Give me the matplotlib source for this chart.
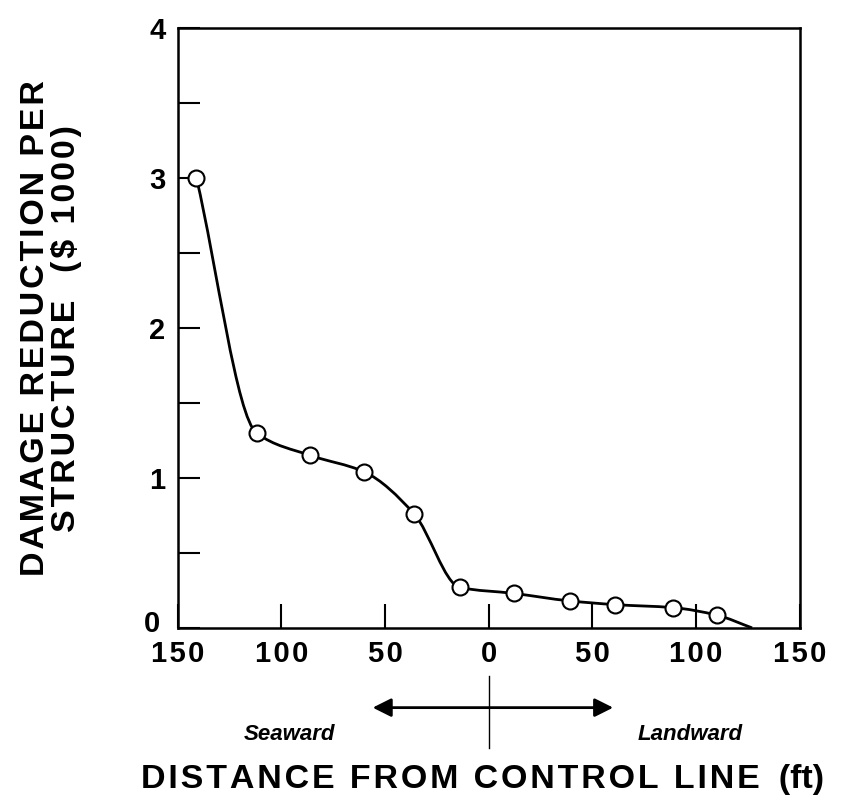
import numpy as np
import matplotlib.pyplot as plt
from matplotlib.path import Path
from matplotlib.patches import PathPatch
from matplotlib.ticker import FuncFormatter
import matplotlib.transforms as mtransforms

plt.rcParams['font.family'] = ['Liberation Sans', 'DejaVu Sans']
plt.rcParams['font.weight'] = 'bold'

# distancia (ft) e reducao de dano (US$ 1000)
dist = [-141, -112, -86, -60, -36, -14, 12, 39, 61, 89, 110]
reducao = [3.0, 1.3, 1.15, 1.04, 0.76, 0.27, 0.23, 0.18, 0.155, 0.135, 0.085]
# onde a curva encosta no eixo
fim_x, fim_y = 127, 0.0

x_ticks = [-150, -100, -50, 0, 50, 100, 150]
y_ticks = [0, 1, 2, 3, 4]


def curva_suave(px, py):
    # hermite monotona (fritsch-carlson) convertida em bezier cubica
    x = np.asarray(px, float)
    y = np.asarray(py, float)
    h = np.diff(x)
    d = np.diff(y) / h
    m = np.zeros_like(x)
    for i in range(1, len(x) - 1):
        if d[i - 1] * d[i] > 0:
            w1 = 2 * h[i] + h[i - 1]
            w2 = h[i] + 2 * h[i - 1]
            m[i] = (w1 + w2) / (w1 / d[i - 1] + w2 / d[i])
    m[0] = d[0]
    m[-1] = d[-1]
    verts = [(x[0], y[0])]
    codes = [Path.MOVETO]
    for i in range(len(x) - 1):
        verts += [(x[i] + h[i] / 3, y[i] + m[i] * h[i] / 3),
                  (x[i + 1] - h[i] / 3, y[i + 1] - m[i + 1] * h[i] / 3),
                  (x[i + 1], y[i + 1])]
        codes += [Path.CURVE4] * 3
    return Path(verts, codes)


def espacado(s, sep='\u200a'):
    # espacamento entre letras, como no original
    return sep.join(s)


fig = plt.figure(figsize=(8.59, 8.06), dpi=100)
ax = fig.add_axes([0.207, 0.221, 0.724, 0.744])

cx = dist + [fim_x]
cy = reducao + [fim_y]
ax.add_patch(PathPatch(curva_suave(cx, cy), fill=False, lw=2.0, color='black'))
ax.plot(dist, reducao, 'o', ms=11.5, mfc='white', mec='black', mew=1.5, zorder=3)

ax.set_xlim(-150, 150)
ax.set_ylim(0, 4)
ax.set_xticks(x_ticks)
ax.set_xticks([0], minor=True)
ax.set_yticks(y_ticks)
ax.set_yticks([0.5, 1.5, 2.5, 3.5], minor=True)
ax.xaxis.set_major_formatter(FuncFormatter(lambda v, p: espacado(f'{abs(int(v))}')))
ax.tick_params(axis='both', which='both', direction='in', width=1.5, labelsize=21)
ax.tick_params(axis='x', which='major', length=17, pad=9)
ax.tick_params(axis='x', which='minor', length=26, width=1.0)
ax.tick_params(axis='y', which='both', length=16, pad=9)
for s in ax.spines.values():
    s.set_linewidth(1.8)

# o "0" do eixo y fica um pouco acima e a esquerda, como no original
lbl0 = ax.yaxis.get_major_ticks()[0].label1
lbl0.set_transform(lbl0.get_transform()
                   + mtransforms.ScaledTranslation(-4 / 72, 5 / 72, fig.dpi_scale_trans))

ax.set_ylabel(espacado('DAMAGE REDUCTION PER') + '\n' + espacado('STRUCTURE  ($ 1000)'),
              fontsize=24.5, fontweight='bold', linespacing=1.0, labelpad=44)

# seta seaward / landward abaixo do eixo
trans = mtransforms.blended_transform_factory(ax.transData, ax.transAxes)
ax.annotate('', xy=(-56, -0.133), xytext=(60, -0.133), xycoords=trans, textcoords=trans,
            arrowprops=dict(arrowstyle='<|-|>', color='black', lw=2.0,
                            mutation_scale=28, shrinkA=0, shrinkB=0),
            annotation_clip=False)
ax.plot([0, 0], [-0.08, -0.2], transform=trans, color='black', lw=1.0, clip_on=False)
ax.text(-96, -0.178, 'Seaward', transform=trans, ha='center', va='center',
        fontsize=16, style='italic')
ax.text(97, -0.178, 'Landward', transform=trans, ha='center', va='center',
        fontsize=16, style='italic')
ax.text(-3, -0.253, espacado('DISTANCE FROM CONTROL LINE') + '  (ft)', transform=trans,
        ha='center', va='center', fontsize=24.5, fontweight='bold')

fig.savefig('out.png', dpi=100)
